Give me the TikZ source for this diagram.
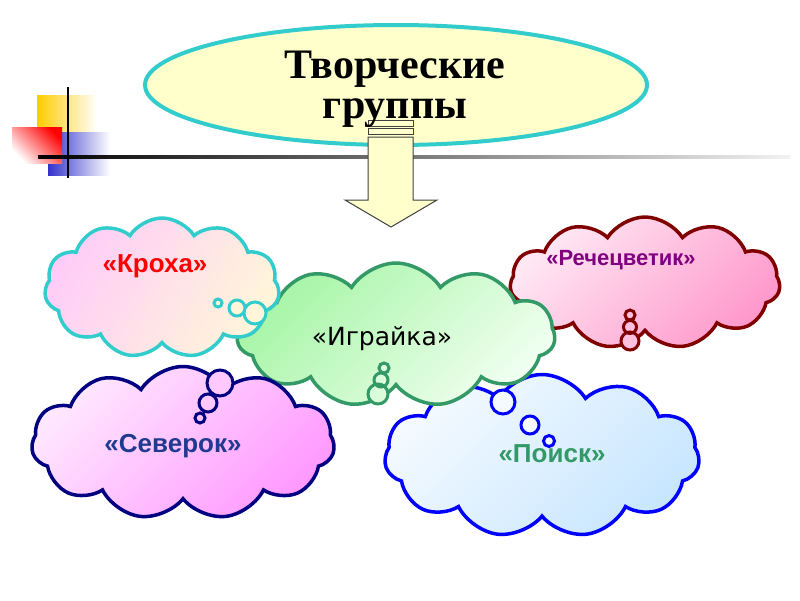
\documentclass[tikz,border=0pt]{standalone}
\usepackage{fontspec}
\setmainfont{Liberation Serif}
\newfontfamily\lsans{Liberation Sans}
\newfontfamily\dsans{DejaVu Sans}
\usetikzlibrary{shapes.symbols,shapes.geometric}
\definecolor{teal1}{HTML}{33CCCC}
\definecolor{paleyel}{HTML}{FFFFCC}
\definecolor{sqyel}{HTML}{FFCC00}
\definecolor{sqblue}{HTML}{3333CC}
\definecolor{krA}{HTML}{FFCCF8}
\definecolor{krB}{HTML}{FFF6DA}
\definecolor{reA}{HTML}{FFE8F4}
\definecolor{reB}{HTML}{FF99CC}
\definecolor{reS}{HTML}{800000}
\definecolor{reT}{HTML}{800080}
\definecolor{igA}{HTML}{A6F5A6}
\definecolor{igB}{HTML}{F0FFF0}
\definecolor{igS}{HTML}{339966}
\definecolor{seA}{HTML}{FFE8FF}
\definecolor{seB}{HTML}{FF99FF}
\definecolor{seS}{HTML}{000080}
\definecolor{seT}{HTML}{1F3A8F}
\definecolor{poA}{HTML}{F4FAFF}
\definecolor{poB}{HTML}{C8E6FF}
\definecolor{poS}{HTML}{0000FF}
\definecolor{poT}{HTML}{339966}
\tikzset{
  cloudbox/.style={cloud, cloud puffs=11, cloud puff arc=115, cloud ignores aspect, line width=3.5pt, inner sep=0pt},
  bubble/.style={line width=3pt},
  lbl/.style={font=\lsans\bfseries\fontsize{26}{26}\selectfont, anchor=base, inner sep=0pt},
}
\begin{document}
\begin{tikzpicture}[x=1pt,y=-1pt]
\useasboundingbox (0,0) rectangle (800,600);
% decorative squares
\shade[left color=sqyel, middle color=sqyel, right color=white] (37,95) rectangle (97,140);
\shade[left color=sqblue, middle color=sqblue!85, right color=white] (48,132) rectangle (110,175);
\shade[top color=red, bottom color=white, shading angle=-45] (12,127) rectangle (62,163);
\shade[left color=black, middle color=black!80, right color=black!5] (38,155.5) rectangle (790,158.5);
\draw[line width=2.5pt] (68,87) -- (68,178);
% title ellipse
\node[ellipse, draw=teal1, fill=paleyel, line width=4pt, minimum width=502pt, minimum height=120pt, inner sep=0pt] (title) at (396,85) {};
% arrow
\draw[draw=black!75, fill=paleyel, line width=1pt] (368,120) rectangle (413,126);
\draw[draw=black!75, fill=paleyel, line width=1pt] (368,128) rectangle (413,134);
\draw[draw=black!75, fill=paleyel, line width=1pt] (368,137) -- (413,137) -- (413,200) -- (437,200) -- (391,227) -- (345,200) -- (368,200) -- cycle;
\node[font=\bfseries\fontsize{42}{42}\selectfont, anchor=base, inner sep=0pt] (t1) at (395,78) {Творческие};
\node[font=\bfseries\fontsize{42}{42}\selectfont, anchor=base, inner sep=0pt] (t2) at (395,118) {группы};
% clouds (back to front)
\node[cloudbox, draw=reS, top color=reA, bottom color=reB, shading angle=45, minimum width=270pt, minimum height=132pt] (rech) at (645,283) {};
\node[cloudbox, draw=poS, top color=poA, bottom color=poB, shading angle=45, minimum width=315pt, minimum height=163pt] (poisk) at (542,456) {};
\draw[bubble, draw=poS, fill=poA] (503,402) circle (12) (530,425) circle (9) (549,441) circle (5.5);
\node[cloudbox, draw=igS, top color=igA, bottom color=igB, shading angle=45, minimum width=318pt, minimum height=144pt] (igr) at (396,335) {};
\draw[bubble, draw=igS, fill=igB!70!igA] (384,368) circle (5) (381,380) circle (7) (378,394) circle (10);
\node[cloudbox, draw=teal1, top color=krA, bottom color=krB, shading angle=60, minimum width=235pt, minimum height=140pt] (kroha) at (162,288) {};
\draw[bubble, draw=teal1, fill=krB] (218,303) circle (4) (237,308) circle (8) (255,313) circle (11);
\node[cloudbox, draw=seS, top color=seA, bottom color=seB, shading angle=45, minimum width=303pt, minimum height=153pt] (sev) at (183,443) {};
\draw[bubble, draw=seS, fill=seA!60!seB] (220,383) circle (13) (208,403) circle (9) (200,418) circle (5);
\draw[bubble, draw=reS, fill=reA!50!reB] (630,315) circle (5) (630,327) circle (6.5) (630,341) circle (9);
% labels
\node[lbl, text=red] (lk) at (155,272) {«Кроха»};
\node[lbl, text=reT, font=\lsans\bfseries\fontsize{22}{22}\selectfont] (lr) at (621,265) {«Речецветик»};
\node[anchor=base, inner sep=0pt, font=\dsans\fontsize{25}{25}\selectfont] (li) at (382,345) {«Играйка»};
\node[lbl, text=seT] (ls) at (173,452) {«Северок»};
\node[lbl, text=poT] (lp) at (552,462) {«Поиск»};
\end{tikzpicture}
\end{document}
